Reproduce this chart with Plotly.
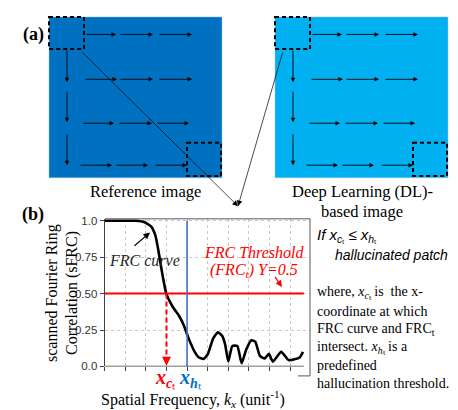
import plotly.graph_objects as go

W, H = 458, 410
SERIF = "Liberation Serif, Times New Roman, serif"
SANS = "Liberation Sans, Arial, sans-serif"

# ---------------- data: FRC curve ----------------
freq = [0, 0.6, 1.2, 1.5, 1.94, 2.26, 2.46, 2.59, 2.72, 2.83, 2.99, 3.3, 3.6,
        3.85, 4.03, 4.2, 4.37, 4.55, 4.8, 5.01, 5.26, 5.5, 5.7, 5.85, 6.0, 6.2, 6.44,
        6.65, 6.87, 7.12, 7.31, 7.54, 7.78, 7.97, 8.17, 8.57, 8.93, 9.22, 9.47, 9.63]
sfrc = [1.0, 1.0, 1.0, 1.0, 0.99, 0.96, 0.90, 0.81, 0.70, 0.61, 0.50, 0.41, 0.35,
        0.28, 0.21, 0.15, 0.10, 0.065, 0.052, 0.085, 0.19, 0.234, 0.21, 0.15, 0.035, 0.14, 0.14,
        0.022, 0.115, 0.18, 0.17, 0.072, 0.055, 0.086, 0.033, 0.10, 0.044, 0.049, 0.062, 0.10]
x_ticks = [0, 1, 2, 3, 4, 5, 6, 7, 8, 9]
y_ticks = [0, 0.25, 0.5, 0.75, 1.0]
y_ticktext = ["0.0", "0.25", "0.50", "0.75", "1.0"]
FRC_T = 0.5      # threshold
X_CT = 3.0       # intersection
X_HT = 4.0       # hallucination threshold
X_END = 9.67     # end of axis line

# ---------------- diagram geometry (pixel layout) ----------------
img_boxes = [(41, 5, 214, 170, "#0070C0"), (267, 5, 440, 170, "#00B0F0")]
img_offset = [0, 226]
row_y = [23, 69, 114, 157]
row_segs = [[(77, 108), (111, 145), (150, 184)],
            [(76, 109), (111, 145), (150, 184)],
            [(74, 106), (110, 144), (148, 181)],
            [(71, 104), (107, 140), (146, 179)]]
col_x = 59
col_segs = [(38, 72), (80, 113), (124, 157)]
dash_boxes = [(41, 5, 76, 38), (179, 134, 213, 168)]

fig = go.Figure()
fig.add_trace(go.Scatter(x=freq, y=sfrc, mode="lines",
                         line=dict(color="black", width=2.6, shape="spline", smoothing=0.5),
                         hoverinfo="skip", showlegend=False))
fig.add_trace(go.Scatter(x=[], y=[], xaxis="x2", yaxis="y2", showlegend=False))

shapes = []
annotations = []

def P(**kw):
    d = dict(xref="x2", yref="y2")
    d.update(kw)
    return d

def arrow(x, y, ax, ay, color="black", width=1.0, size=1.0, ref="x2"):
    yref = "y2" if ref == "x2" else "y"
    annotations.append(dict(xref=ref, yref=yref, x=x, y=y, ax=ax, ay=ay, axref=ref, ayref=yref,
                            text="", showarrow=True, arrowhead=2, arrowsize=size,
                            arrowwidth=width, arrowcolor=color, standoff=0))

# images
for (x0, y0, x1, y1, col), off in zip(img_boxes, img_offset):
    shapes.append(P(type="rect", x0=x0, y0=y0, x1=x1, y1=y1, fillcolor=col,
                    line=dict(width=0.5, color="#9DC3E6"), layer="above"))
    for (dx0, dy0, dx1, dy1) in dash_boxes:
        shapes.append(P(type="rect", x0=dx0 + off, y0=dy0, x1=dx1 + off, y1=dy1,
                        line=dict(color="black", width=2, dash="4px,3px"), layer="above"))
    for yy, segs in zip(row_y, row_segs):
        for a, b in segs:
            arrow(b + off, yy, a + off, yy, width=0.9, size=1.0)
    for a, b in col_segs:
        arrow(col_x + off, b, col_x + off, a, width=0.9, size=1.0)

# connector lines
for tx, ty in [(73, 40), (275, 40)]:
    arrow(230, 199, tx, ty, width=0.7, size=1.6)

def txt(x, y, s, size=16, color="black", family=SERIF, xanchor="center", angle=0):
    annotations.append(P(x=x, y=y, text=s, showarrow=False, xanchor=xanchor, yanchor="middle",
                         textangle=angle, font=dict(family=family, size=size, color=color)))

txt(25, 23, "<b>(a)</b>", size=18)
txt(25, 208, "<b>(b)</b>", size=18)
txt(137, 184, "Reference image", size=16.5)
txt(354, 184, "Deep Learning (DL)-", size=16.5)
txt(354, 204, "based image", size=16.5)

# chart frame
shapes.append(P(type="path", path="M 97,212 H 302 V 373 H 290",
                line=dict(color="#595959", width=1), layer="above"))

# y-axis title
txt(44, 288, "scanned Fourier Ring", size=16, angle=-90)
txt(64, 288, "Correlation (sFRC)", size=16, angle=-90)
# x-axis title
txt(185, 397, "Spatial Frequency, <i>k<sub>x</sub></i> (unit<sup>-1</sup>)", size=16)

# x labels
txt(157, 376, "<b><i>x</i></b><sub><b><i>c</i></b>ₜ</sub>", size=20, color="#FF0000")
txt(182, 376, "<b><i>x</i></b><sub><b><i>h</i></b>ₜ</sub>", size=20, color="#0070C0")

# chart annotations
txt(136, 255, "<i>FRC curve</i>", size=16, color="#262626")
arrow(142, 226, 125, 241, width=1.2, size=1.1)
txt(246, 247, "<i>FRC Threshold</i>", size=16, color="#FF0000")
txt(246, 265, "<i>(FRC<sub>t</sub>) Y=0.5</i>", size=16, color="#FF0000")
arrow(274, 282, 266, 270, color="#FF0000", width=1.2, size=1.1)

# right text
txt(307, 229, "<i>If </i><i>x</i><sub><i>c</i>ₜ</sub> ≤ <i>x</i><sub><i>h</i>ₜ</sub>",
    size=15, family=SANS, xanchor="left")
txt(325, 249, "<i>hallucinated patch</i>", size=14, family=SANS, xanchor="left")
right_lines = ["where, <i>x</i><sub><i>c</i>ₜ</sub> is  the x-",
               "coordinate at which",
               "FRC curve and FRC<sub>t</sub>",
               "intersect. <i>x</i><sub><i>h</i>ₜ</sub> is a",
               "predefined",
               "hallucination threshold."]
for i, s in enumerate(right_lines):
    txt(307, 288 + i * 18.6, s, size=14, xanchor="left")

# chart lines in data coords
shapes.append(dict(type="line", xref="x", yref="y", x0=0, x1=X_END, y0=FRC_T, y1=FRC_T,
                   line=dict(color="#FF0000", width=2)))
shapes.append(dict(type="line", xref="x", yref="y", x0=X_HT, x1=X_HT, y0=0, y1=1.0,
                   line=dict(color="#4472C4", width=1.6)))
shapes.append(dict(type="line", xref="x", yref="y", x0=X_CT, x1=X_CT, y0=FRC_T, y1=0.04,
                   line=dict(color="#FF0000", width=2, dash="5px,3px")))
shapes.append(dict(type="line", xref="x", yref="y", x0=0, x1=X_END, y0=0, y1=0,
                   line=dict(color="#404040", width=1.2)))
arrow(X_CT, 0.005, X_CT, 0.05, color="#FF0000", width=1.5, size=1.2, ref="x")

fig.update_layout(
    width=W, height=H, margin=dict(l=0, r=0, t=0, b=0),
    paper_bgcolor="white", plot_bgcolor="rgba(0,0,0,0)",
    showlegend=False,
    xaxis=dict(domain=[96.7 / W, 302 / W], range=[0, 9.97], tickvals=x_ticks,
               showticklabels=False, ticks="outside", ticklen=4, tickcolor="#404040",
               showgrid=True, gridcolor="#C8C8C8", griddash="dot", gridwidth=1,
               zeroline=False, showline=False, fixedrange=True),
    yaxis=dict(domain=[1 - 363.3 / H, 1 - 211.8 / H], range=[0, 1.015], tickvals=y_ticks,
               ticktext=y_ticktext, ticks="outside", ticklen=4, tickcolor="#404040",
               tickfont=dict(family=SANS, size=11.5, color="#333333"),
               showgrid=True, gridcolor="#C8C8C8", griddash="dot", gridwidth=1,
               zeroline=False, showline=True, linecolor="#404040", linewidth=1.2,
               fixedrange=True),
    xaxis2=dict(domain=[0, 1], range=[0, W], visible=False, anchor="y2", fixedrange=True),
    yaxis2=dict(domain=[0, 1], range=[H, 0], visible=False, anchor="x2", fixedrange=True),
    shapes=shapes, annotations=annotations,
)

fig.write_html("out.html")
